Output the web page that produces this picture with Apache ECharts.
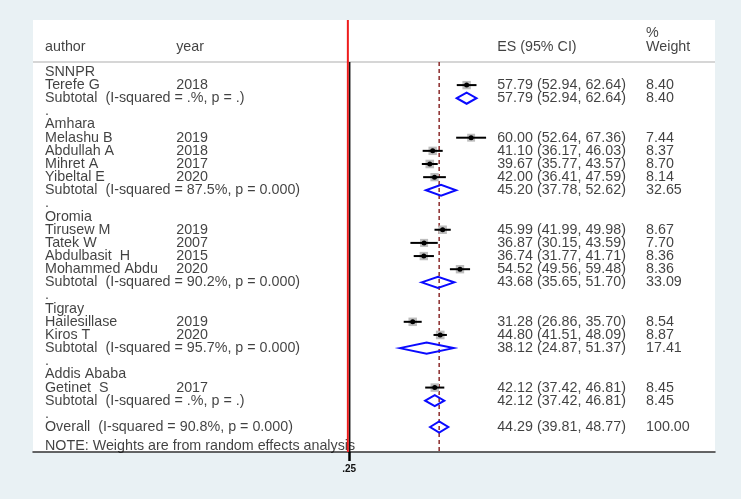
<!DOCTYPE html>
<html>
<head>
<meta charset="utf-8">
<script src="https://cdn.jsdelivr.net/npm/echarts@6/dist/echarts.min.js"></script>
<style>
  html, body { margin: 0; padding: 0; background: #e9f1f4; }
  #main { width: 741px; height: 499px; }
</style>
</head>
<body>
<div id="main"></div>
<script>
// table rows, top to bottom
const authors = ['SNNPR', 'Terefe G', 'Subtotal  (I-squared = .%, p = .)', '.',
  'Amhara', 'Melashu B', 'Abdullah A', 'Mihret A', 'Yibeltal E', 'Subtotal  (I-squared = 87.5%, p = 0.000)', '.',
  'Oromia', 'Tirusew M', 'Tatek W', 'Abdulbasit  H', 'Mohammed Abdu', 'Subtotal  (I-squared = 90.2%, p = 0.000)', '.',
  'Tigray', 'Hailesillase', 'Kiros T', 'Subtotal  (I-squared = 95.7%, p = 0.000)', '.',
  'Addis Ababa', 'Getinet  S', 'Subtotal  (I-squared = .%, p = .)', '.',
  'Overall  (I-squared = 90.8%, p = 0.000)'];
const years = ['', '2018', '', '',
  '', '2019', '2018', '2017', '2020', '', '',
  '', '2019', '2007', '2015', '2020', '', '',
  '', '2019', '2020', '', '',
  '', '2017', '', '',
  ''];
// s = study, p = pooled (subtotal / overall)
const kinds = ['', 's', 'p', '',
  '', 's', 's', 's', 's', 'p', '',
  '', 's', 's', 's', 's', 'p', '',
  '', 's', 's', 'p', '',
  '', 's', 'p', '',
  'p'];
const es = [null, 57.79, 57.79, null,
  null, 60.00, 41.10, 39.67, 42.00, 45.20, null,
  null, 45.99, 36.87, 36.74, 54.52, 43.68, null,
  null, 31.28, 44.80, 38.12, null,
  null, 42.12, 42.12, null,
  44.29];
const lower = [null, 52.94, 52.94, null,
  null, 52.64, 36.17, 35.77, 36.41, 37.78, null,
  null, 41.99, 30.15, 31.77, 49.56, 35.65, null,
  null, 26.86, 41.51, 24.87, null,
  null, 37.42, 37.42, null,
  39.81];
const upper = [null, 62.64, 62.64, null,
  null, 67.36, 46.03, 43.57, 47.59, 52.62, null,
  null, 49.98, 43.59, 41.71, 59.48, 51.70, null,
  null, 35.70, 48.09, 51.37, null,
  null, 46.81, 46.81, null,
  48.77];
const weights = [null, 8.40, 8.40, null,
  null, 7.44, 8.37, 8.70, 8.14, 32.65, null,
  null, 8.67, 7.70, 8.36, 8.36, 33.09, null,
  null, 8.54, 8.87, 17.41, null,
  null, 8.45, 8.45, null,
  100.00];
const overallES = 44.29;
const note = 'NOTE: Weights are from random effects analysis';
const tickValues = [0];

// axis ranges (x in effect units, y in row units)
const xMin = -155.4, xMax = 179.9;
const yMin = -3.95, yMax = 28.9;
const colAuthor = -149.5, colYear = -85.0, colES = 72.8, colW = 146.0;

const fmt = v => v.toFixed(2);
const textRows = [];
authors.forEach((a, i) => {
  textRows.push([colAuthor, i, a]);
  if (years[i]) textRows.push([colYear, i, years[i]]);
  if (es[i] != null) {
    textRows.push([colES, i, fmt(es[i]) + ' (' + fmt(lower[i]) + ', ' + fmt(upper[i]) + ')']);
    textRows.push([colW, i, fmt(weights[i])]);
  }
});
textRows.push([colAuthor, -1.92, 'author']);
textRows.push([colYear, -1.92, 'year']);
textRows.push([colES, -1.92, 'ES (95% CI)']);
textRows.push([colW, -2.97, '%']);
textRows.push([colW, -1.92, 'Weight']);
textRows.push([colAuthor, 28.45, note]);

const studyData = [], pooledData = [];
kinds.forEach((k, i) => {
  if (k === 's') studyData.push([es[i], i, lower[i], upper[i], weights[i]]);
  if (k === 'p') pooledData.push([es[i], i, lower[i], upper[i]]);
});

var myChart = echarts.init(document.getElementById('main'));
const option = {
  backgroundColor: '#e9f1f4',
  animation: false,
  textStyle: { fontFamily: 'Liberation Sans, Arial, sans-serif' },
  grid: {
    left: 33, right: 26, top: 20, bottom: 47,
    show: true, backgroundColor: '#ffffff', borderWidth: 0
  },
  xAxis: {
    type: 'value', min: xMin, max: xMax, position: 'bottom',
    splitLine: { show: false },
    axisLine: { onZero: false, lineStyle: { color: '#333', width: 1.5 } },
    axisTick: { customValues: tickValues, length: 9, lineStyle: { color: '#000', width: 2.5 } },
    axisLabel: {
      customValues: tickValues, margin: 12,
      formatter: () => '.25',
      color: '#111', fontSize: 10, fontWeight: 'bold'
    }
  },
  yAxis: {
    type: 'value', min: yMin, max: yMax, inverse: true,
    show: false
  },
  series: [
    {
      // column text
      type: 'scatter', symbolSize: 0, z: 2,
      data: textRows,
      label: {
        show: true, position: 'right', distance: 0,
        formatter: p => p.value[2],
        color: '#111', fontSize: 14.3
      }
    },
    {
      // header separator
      type: 'line', symbol: 'none', z: 3,
      lineStyle: { color: '#c8c8c8', width: 1.5 },
      data: [[xMin, -0.76], [xMax, -0.76]]
    },
    {
      // red line
      type: 'line', symbol: 'none', z: 4,
      lineStyle: { color: '#ee1c1c', width: 2 },
      data: [[-0.6, yMin], [-0.6, yMax]]
    },
    {
      // null line
      type: 'line', symbol: 'none', z: 5,
      lineStyle: { color: '#111', width: 1.5 },
      data: [[0.3, -0.76], [0.3, yMax]]
    },
    {
      // overall estimate
      type: 'line', symbol: 'none', z: 4,
      lineStyle: { color: '#8b2a2a', width: 1.5, type: [4, 3] },
      data: [[overallES, -0.76], [overallES, yMax]]
    },
    {
      type: 'custom', z: 6,
      data: studyData,
      renderItem: function (params, api) {
        const p = api.coord([api.value(0), api.value(1)]);
        const a = api.coord([api.value(2), api.value(1)]);
        const b = api.coord([api.value(3), api.value(1)]);
        const s = Math.sqrt(api.value(4)) * 2.9;
        return {
          type: 'group',
          children: [
            { type: 'rect', shape: { x: p[0] - s / 2, y: p[1] - s / 2, width: s, height: s },
              style: { fill: '#bdbdbd' } },
            { type: 'line', shape: { x1: a[0], y1: a[1], x2: b[0], y2: b[1] },
              style: { stroke: '#000', lineWidth: 2 } },
            { type: 'circle', shape: { cx: p[0], cy: p[1], r: 2.5 }, style: { fill: '#000' } }
          ]
        };
      }
    },
    {
      type: 'custom', z: 6,
      data: pooledData,
      renderItem: function (params, api) {
        const p = api.coord([api.value(0), api.value(1)]);
        const a = api.coord([api.value(2), api.value(1)]);
        const b = api.coord([api.value(3), api.value(1)]);
        const h = 5.5;
        return {
          type: 'polygon',
          shape: { points: [[a[0], a[1]], [p[0], p[1] - h], [b[0], b[1]], [p[0], p[1] + h]] },
          style: { fill: 'none', stroke: '#0a0aff', lineWidth: 2 }
        };
      }
    }
  ]
};
myChart.setOption(option);
</script>
</body>
</html>
